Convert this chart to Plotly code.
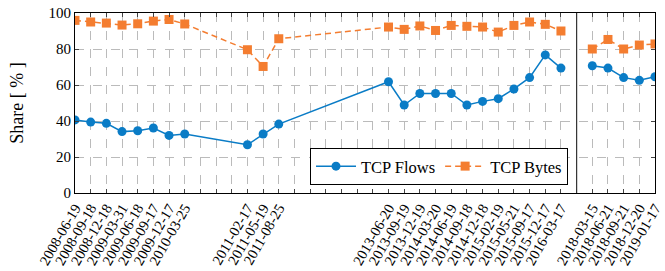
import plotly.graph_objects as go

# x slots (evenly spaced), "" = empty slot
slots = ["2008-06-19", "2008-09-18", "2008-12-18", "2009-03-31", "2009-06-18",
         "2009-09-17", "2009-12-17", "2010-03-25", "", "", "", "2011-02-17",
         "2011-05-19", "2011-08-25", "", "", "", "", "", "", "2013-06-20",
         "2013-09-19", "2013-12-19", "2014-03-20", "2014-06-19", "2014-09-18",
         "2014-12-18", "2015-02-19", "2015-05-21", "2015-09-17", "2015-12-17",
         "2016-03-17", "", "2018-03-15", "2018-06-21", "2018-09-21",
         "2018-12-20", "2019-01-17"]

dates_a = ["2008-06-19", "2008-09-18", "2008-12-18", "2009-03-31", "2009-06-18",
           "2009-09-17", "2009-12-17", "2010-03-25", "2011-02-17", "2011-05-19",
           "2011-08-25", "2013-06-20", "2013-09-19", "2013-12-19", "2014-03-20",
           "2014-06-19", "2014-09-18", "2014-12-18", "2015-02-19", "2015-05-21",
           "2015-09-17", "2015-12-17", "2016-03-17"]
dates_b = ["2018-03-15", "2018-06-21", "2018-09-21", "2018-12-20", "2019-01-17"]

flows_a = [40.6, 39.4, 38.7, 34.1, 34.6, 36.1, 32.0, 32.8, 26.8, 32.8, 38.3,
           61.8, 48.9, 55.3, 55.3, 55.3, 48.9, 50.9, 52.4, 57.8, 64.1, 76.7, 69.4]
flows_b = [70.7, 69.4, 64.1, 62.6, 64.6]
bytes_a = [95.9, 95.0, 94.4, 93.3, 94.0, 95.5, 96.4, 93.9, 79.6, 70.3, 85.7,
           92.2, 90.9, 92.8, 90.3, 93.1, 92.6, 92.2, 89.4, 93.1, 95.0, 93.7, 90.0]
bytes_b = [80.0, 85.3, 80.0, 82.2, 82.8]

sep_index = 32  # empty slot holding the vertical divider

BLUE = "#0A7CC6"
ORANGE = "#F47D30"
FONT = "Liberation Serif"

x_a = [slots.index(d) for d in dates_a]
x_b = [slots.index(d) for d in dates_b]
xs = x_a + [None] + x_b
fy = flows_a + [None] + flows_b
by = bytes_a + [None] + bytes_b

fig = go.Figure()
fig.add_trace(go.Scatter(x=xs, y=fy, name="TCP Flows", mode="lines+markers",
                         line=dict(color=BLUE, width=1.5),
                         marker=dict(symbol="circle", size=9, color=BLUE),
                         connectgaps=False))
fig.add_trace(go.Scatter(x=xs, y=by, name="TCP Bytes", mode="lines+markers",
                         line=dict(color=ORANGE, width=1.5, dash="6px,4px"),
                         marker=dict(symbol="square", size=9, color=ORANGE),
                         connectgaps=False))

fig.add_shape(type="line", x0=sep_index, x1=sep_index, y0=0, y1=100,
              xref="x", yref="y", line=dict(color="#333333", width=1.2))

fig.update_layout(
    width=665, height=271,
    margin=dict(l=75, r=10, t=13, b=78),
    plot_bgcolor="white", paper_bgcolor="white",
    font=dict(family=FONT, size=13, color="black"),
    showlegend=True,
    legend=dict(orientation="h", x=0.85, y=0.045, xanchor="right", yanchor="bottom",
                bgcolor="white", bordercolor="black", borderwidth=1,
                font=dict(family=FONT, size=16.5), itemwidth=40,
                tracegroupgap=0),
)
fig.update_xaxes(
    range=[0, len(slots) - 1], automargin=False,
    tickmode="array", tickvals=list(range(len(slots))), ticktext=slots,
    tickangle=-60, tickfont=dict(family=FONT, size=14.5),
    showgrid=True, gridcolor="#bbbbbb", griddash="dash", gridwidth=1,
    showline=True, linecolor="black", linewidth=1, mirror="ticks",
    ticks="inside", ticklen=4, tickcolor="#444444", zeroline=False,
)
fig.update_yaxes(
    range=[0, 100], tickvals=[0, 20, 40, 60, 80, 100], automargin=False,
    title=dict(text="Share [ % ]", font=dict(family=FONT, size=18), standoff=20),
    tickfont=dict(family=FONT, size=15),
    showgrid=True, gridcolor="#bbbbbb", griddash="dash", gridwidth=1,
    showline=True, linecolor="black", linewidth=1, mirror="ticks",
    ticks="inside", ticklen=4, tickcolor="#444444", zeroline=False,
)

fig.write_html("out.html", config={"displayModeBar": False},
               post_script="document.body.style.margin='0';document.body.style.overflow='hidden';")
